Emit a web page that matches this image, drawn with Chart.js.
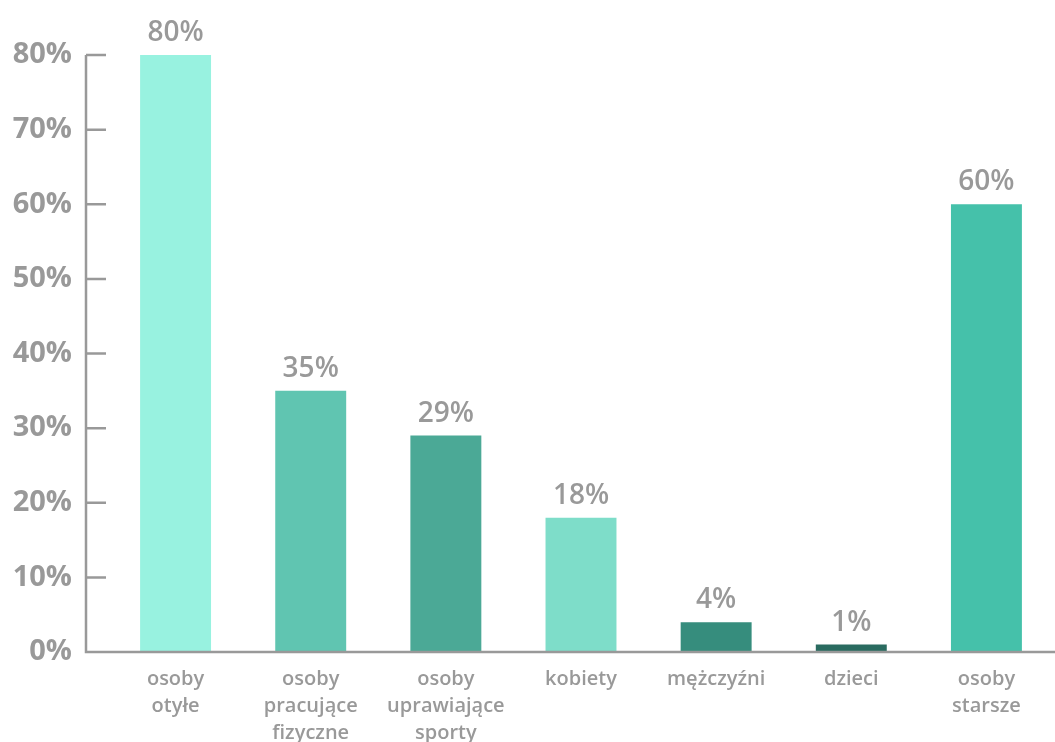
<!DOCTYPE html>
<html lang="pl">
<head>
<meta charset="UTF-8">
<title>Wykres</title>
<script src="https://cdn.jsdelivr.net/npm/chart.js"></script>
<style>
  html, body { margin: 0; padding: 0; background: #fff; overflow: hidden; }
  #wrap { width: 1055px; height: 742px; }
</style>
</head>
<body>
<div id="wrap"><canvas id="chart"></canvas></div>
<script>
// dane
const categories = [
  ['osoby', 'otyłe'],
  ['osoby', 'pracujące', 'fizyczne'],
  ['osoby', 'uprawiające', 'sporty'],
  'kobiety',
  'mężczyźni',
  'dzieci',
  ['osoby', 'starsze']
];
const values = [80, 35, 29, 18, 4, 1, 60];
const barColors = ['#98f2e0', '#60c5b1', '#4ba996', '#7eddc9', '#368d7d', '#2a6b60', '#45c1aa'];
const yTicks = [0, 10, 20, 30, 40, 50, 60, 70, 80];

const grey = '#999999';

// oś Y przesunięta w lewo + znaczniki do środka
const axisPlugin = {
  id: 'axisPlugin',
  afterDraw(chart) {
    const { ctx, chartArea } = chart;
    const y = chart.scales.y;
    const x0 = chartArea.left - 22;
    ctx.save();
    ctx.strokeStyle = grey;
    ctx.lineWidth = 2.5;
    ctx.beginPath();
    ctx.moveTo(x0, y.getPixelForValue(80));
    ctx.lineTo(x0, y.getPixelForValue(0));
    ctx.lineTo(chartArea.right + 2, y.getPixelForValue(0));
    yTicks.forEach(t => {
      if (t === 0) return;
      const py = y.getPixelForValue(t);
      ctx.moveTo(x0, py);
      ctx.lineTo(x0 + 20, py);
    });
    ctx.stroke();

    // etykiety wartości
    ctx.fillStyle = grey;
    ctx.font = '600 28px "Open Sans"';
    ctx.textAlign = 'center';
    ctx.textBaseline = 'alphabetic';
    chart.getDatasetMeta(0).data.forEach((bar, i) => {
      ctx.fillText(values[i] + '%', bar.x, bar.y - 14);
    });
    ctx.restore();
  }
};

new Chart(document.getElementById('chart'), {
  type: 'bar',
  data: {
    labels: categories,
    datasets: [{
      data: values,
      backgroundColor: barColors,
      barPercentage: 0.525,
      categoryPercentage: 1
    }]
  },
  options: {
    responsive: true,
    maintainAspectRatio: false,
    animation: false,
    layout: { padding: { top: 55, right: 1, bottom: 0, left: 0 } },
    plugins: { legend: { display: false }, tooltip: { enabled: false } },
    scales: {
      x: {
        afterFit(scale) { scale.height = 90; },
        grid: { display: false },
        border: { display: false },
        ticks: {
          color: grey,
          font: { family: 'Open Sans', size: 20, weight: '600', lineHeight: 1.35 },
          padding: 6,
          maxRotation: 0,
          autoSkip: false
        }
      },
      y: {
        min: 0,
        max: 80,
        afterBuildTicks(scale) { scale.ticks = yTicks.map(v => ({ value: v })); },
        afterFit(scale) { scale.width = 108; },
        grid: { display: false, drawTicks: false },
        border: { display: false },
        ticks: {
          color: grey,
          font: { family: 'Open Sans', size: 29, weight: 'bold' },
          padding: 36,
          callback: v => v + '%'
        }
      }
    }
  },
  plugins: [axisPlugin]
});
</script>
</body>
</html>
